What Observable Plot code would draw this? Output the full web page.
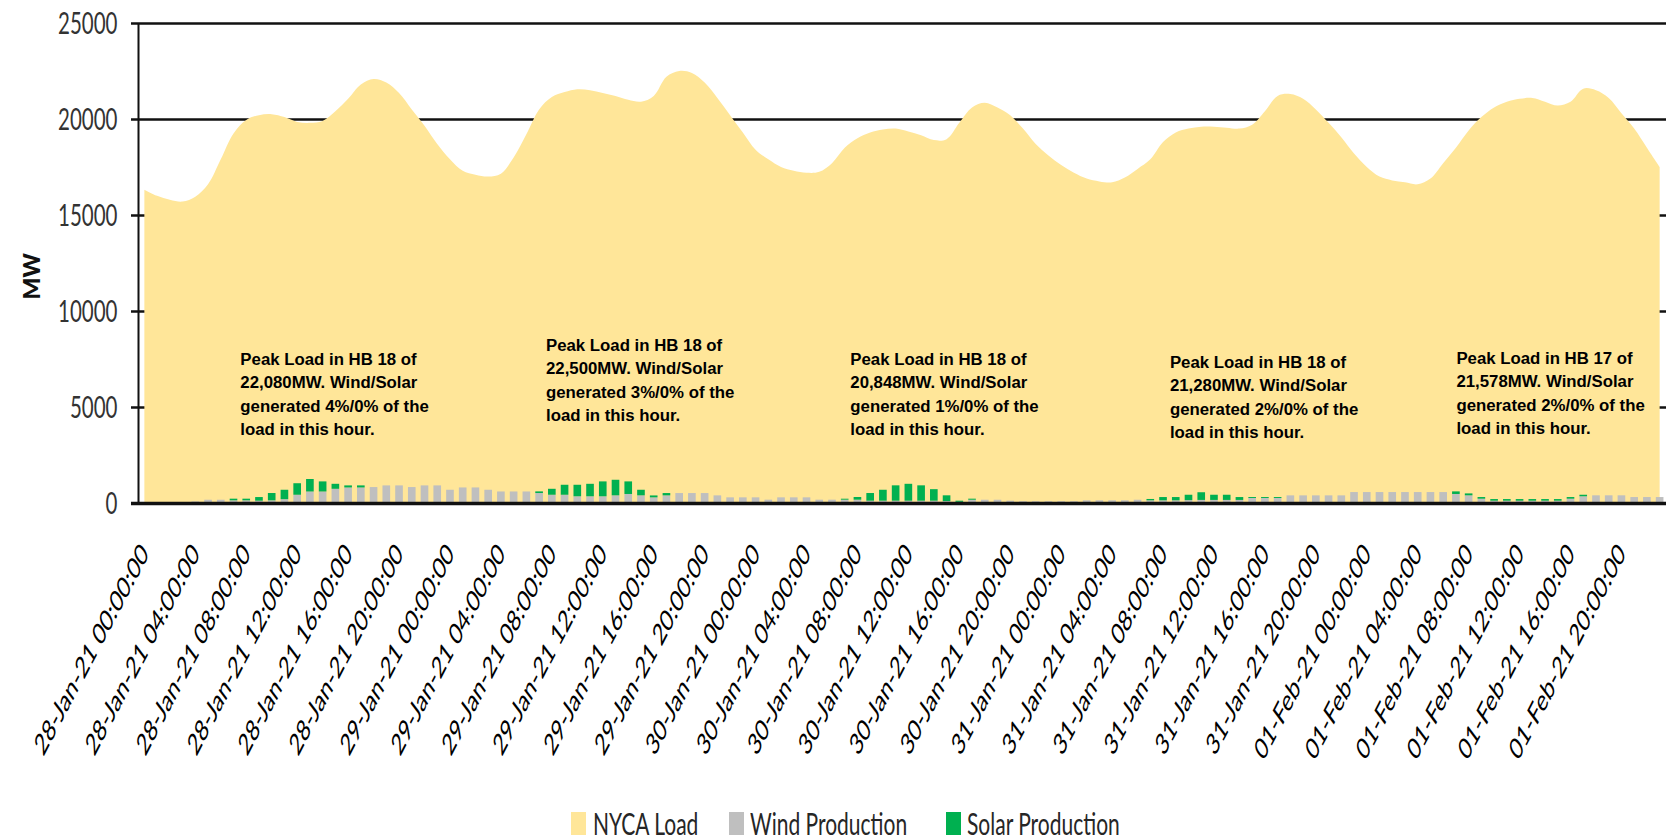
<!DOCTYPE html>
<html><head><meta charset="utf-8">
<script src="https://cdn.jsdelivr.net/npm/d3@7"></script>
<script src="https://cdn.jsdelivr.net/npm/@observablehq/plot@0.6"></script>
<style>
body{margin:0;background:#fff;}
#wrap{position:relative;width:1666px;height:840px;overflow:hidden;background:#fff;}
#wrap svg{display:block;}
.sw{position:absolute;top:812px;width:15px;height:23px;}
.lt{position:absolute;top:815px;height:16px;line-height:16px;font-family:Lato,sans-serif;font-size:21px;color:#262626;transform:scaleY(1.5);transform-origin:left center;white-space:nowrap;}
</style></head><body><div id="wrap"></div>
<script>
// ---- data (hourly, 28-Jan-21 00:00 .. 01-Feb-21 23:00) ----
const load = [
16320,16000,15800,15700,15950,16600,17900,19250,19950,20200,20250,20100,19850,19800,19900,20400,21050,21800,22080,21900,21350,
20500,19650,18700,17900,17300,17100,17000,17150,18000,19200,20500,21150,21400,21550,21500,21350,21200,21000,20900,21200,
22200,22500,22400,21900,21100,20200,19300,18400,17900,17500,17300,17200,17250,17700,18500,19000,19300,19450,19500,19350,
19150,18900,18950,19800,20600,20850,20600,20200,19500,18700,18100,17600,17200,16900,16750,16700,16950,17400,17900,18800,
19300,19500,19600,19600,19550,19500,19700,20400,21200,21300,21050,20500,19800,19050,18200,17500,17000,16800,16700,16600,
16900,17700,18500,19400,20100,20600,20900,21050,21100,20900,20700,20900,21580,21500,21100,20300,19500,18500,17500
];
const wind = [
50,50,50,50,80,170,170,140,140,120,140,200,430,600,600,740,810,810,830,917,
917,830,917,917,690,810,810,690,600,600,600,520,430,430,350,350,350,400,470,400,
294,398,519,519,519,398,294,294,294,173,294,294,294,173,173,173,173,120,120,120,
120,120,120,100,60,170,170,170,120,90,90,90,90,90,140,140,140,140,170,140,
140,140,150,160,160,160,160,260,260,260,398,398,398,398,398,570,570,570,570,570,
570,570,570,470,400,225,120,120,120,120,120,120,225,350,400,400,400,310,310,310
];
const solar = [
0,0,0,0,0,0,0,85,85,190,380,490,600,650,525,260,107,107,0,0,
0,0,0,0,0,0,0,0,0,0,0,85,310,520,600,650,775,810,655,290,
100,120,0,0,0,0,0,0,0,0,0,0,0,0,0,50,140,400,570,800,
880,800,600,300,60,55,0,0,0,0,0,0,0,0,0,0,0,0,0,70,
170,170,280,400,270,270,150,50,50,50,0,0,0,0,0,0,0,0,0,0,
0,0,0,135,100,85,85,85,85,85,85,85,85,80,0,0,0,0,0,0
];
const xTickLabels = [
"28-Jan-21 00:00:00","28-Jan-21 04:00:00","28-Jan-21 08:00:00","28-Jan-21 12:00:00","28-Jan-21 16:00:00","28-Jan-21 20:00:00",
"29-Jan-21 00:00:00","29-Jan-21 04:00:00","29-Jan-21 08:00:00","29-Jan-21 12:00:00","29-Jan-21 16:00:00","29-Jan-21 20:00:00",
"30-Jan-21 00:00:00","30-Jan-21 04:00:00","30-Jan-21 08:00:00","30-Jan-21 12:00:00","30-Jan-21 16:00:00","30-Jan-21 20:00:00",
"31-Jan-21 00:00:00","31-Jan-21 04:00:00","31-Jan-21 08:00:00","31-Jan-21 12:00:00","31-Jan-21 16:00:00","31-Jan-21 20:00:00",
"01-Feb-21 00:00:00","01-Feb-21 04:00:00","01-Feb-21 08:00:00","01-Feb-21 12:00:00","01-Feb-21 16:00:00","01-Feb-21 20:00:00"
];
const xTickStep = 4;
const yTicks = [0,5000,10000,15000,20000,25000];
const yTitle = "MW";
const annotationTexts = [
"Peak Load in HB 18 of\n22,080MW. Wind/Solar\ngenerated 4%/0% of the\nload in this hour.",
"Peak Load in HB 18 of\n22,500MW. Wind/Solar\ngenerated 3%/0% of the\nload in this hour.",
"Peak Load in HB 18 of\n20,848MW. Wind/Solar\ngenerated 1%/0% of the\nload in this hour.",
"Peak Load in HB 18 of\n21,280MW. Wind/Solar\ngenerated 2%/0% of the\nload in this hour.",
"Peak Load in HB 17 of\n21,578MW. Wind/Solar\ngenerated 2%/0% of the\nload in this hour."
];
const annotationHours = [7.5, 31.5, 55.4, 80.5, 103];
const annotationMW = [8094, 8823, 8094, 7937, 8146];
const legendNames = ["NYCA Load","Wind Production","Solar Production"];

// ---- styling ----
const C_LOAD = "#FFE699", C_WIND = "#BFBFBF", C_SOLAR = "#00B050";
const KY = 1.55; // vertical stretch of y tick text
const KX = 1.6;  // vertical stretch of x tick text

const rows = load.map((v, i) => ({i, load: v, wind: wind[i], solar: solar[i]}));
const ticks = xTickLabels.map((label, j) => ({i: j * xTickStep, label}));
const notes = annotationTexts.map((text, j) => ({x: annotationHours[j], y: annotationMW[j], text}));

const plot = Plot.plot({
  width: 1666, height: 800,
  marginTop: 23, marginBottom: 297, marginLeft: 138, marginRight: 0,
  x: {type: "linear", domain: [-0.5, 119.5], axis: null},
  y: {domain: [0, 25000], axis: null},
  style: {background: "white", overflow: "visible"},
  marks: [
    Plot.ruleY(yTicks, {x1: -1.05, x2: 119.5, stroke: "#111", strokeWidth: 2.5}),
    Plot.areaY(rows, {x: "i", y: "load", fill: C_LOAD, curve: "catmull-rom"}),
    Plot.rect(rows, {x1: d => d.i - 0.3, x2: d => d.i + 0.3, y1: 0, y2: "wind", fill: C_WIND}),
    Plot.rect(rows.filter(d => d.solar > 0), {x1: d => d.i - 0.3, x2: d => d.i + 0.3, y1: "wind", y2: d => d.wind + d.solar, fill: C_SOLAR}),
    Plot.ruleX([-0.5], {stroke: "#111", strokeWidth: 2}),
    Plot.ruleY([0], {x1: -1.05, x2: 119.5, stroke: "#111", strokeWidth: 3.5}),
    Plot.text(yTicks, {frameAnchor: "left", y: d => d, text: d => String(d), textAnchor: "end", dx: -21,
      fontSize: 20.5, fontFamily: "Lato", fill: "#333"}),
    Plot.text(ticks, {x: "i", text: "label", frameAnchor: "bottom", textAnchor: "end", lineAnchor: "middle",
      rotate: -50, dy: 45, fontSize: 19, fontFamily: "Lato", fill: "#000"}),
    Plot.text([yTitle], {text: d => d, frameAnchor: "left", dx: -106, dy: 36, rotate: -90, fontSize: 23,
      fontWeight: 900, fontFamily: "Lato", fill: "#111"}),
    Plot.text(notes, {x: "x", y: "y", text: "text", textAnchor: "start", lineAnchor: "top", lineHeight: 1.4,
      fontSize: 16.8, fontWeight: "bold", fontFamily: "Liberation Sans, Arial, sans-serif", fill: "#000"})
  ]
});

// stretch axis tick texts vertically (the reference is vertically stretched)
d3.select(plot).selectAll("text").each(function() {
  const s = this.textContent.trim();
  const isY = /^\d+$/.test(s), isX = /^\d\d-(Jan|Feb)-21 /.test(s);
  if (!isY && !isX) return;
  const k = isX ? KX : KY;
  const t = this.getAttribute("transform");
  if (t) {
    if (/rotate\(/.test(t)) this.setAttribute("transform", t.replace(/rotate\(/, `scale(1,${k}) rotate(`));
    else this.setAttribute("transform", t + ` scale(1,${k})`);
  } else {
    const x = +this.getAttribute("x") || 0, y = +this.getAttribute("y") || 0;
    this.setAttribute("x", 0); this.setAttribute("y", 0);
    this.setAttribute("transform", `translate(${x},${y}) scale(1,${k})`);
  }
});

const wrap = document.getElementById("wrap");
wrap.appendChild(plot);

// legend (HTML, below the SVG)
const legSw = [571, 729, 946], legTx = [593, 750, 967], legC = [C_LOAD, C_WIND, C_SOLAR];
legendNames.forEach((name, j) => {
  const s = document.createElement("div");
  s.className = "sw"; s.style.left = legSw[j] + "px"; s.style.background = legC[j];
  wrap.appendChild(s);
  const t = document.createElement("div");
  t.className = "lt"; t.style.left = legTx[j] + "px"; t.textContent = name;
  wrap.appendChild(t);
});
</script></body></html>
